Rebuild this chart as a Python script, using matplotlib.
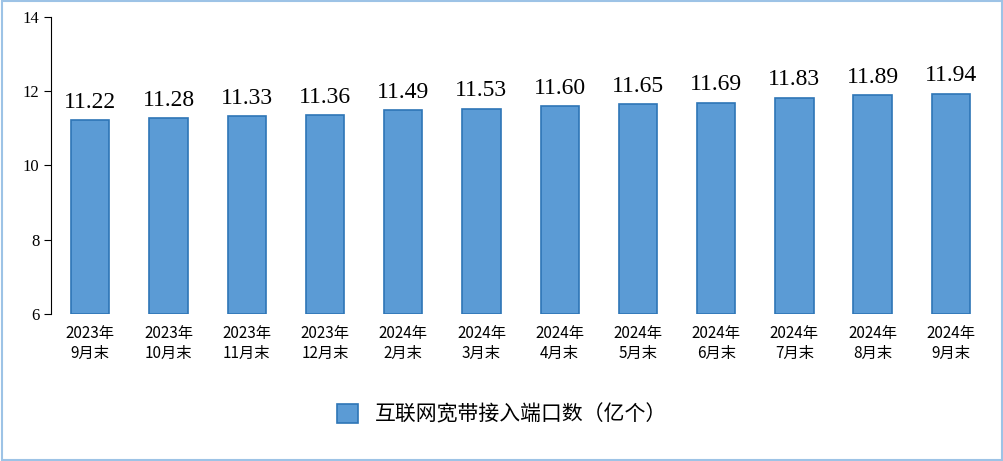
import matplotlib.pyplot as plt
from matplotlib.patches import Rectangle

categories = ["2023年\n9月末", "2023年\n10月末", "2023年\n11月末", "2023年\n12月末",
              "2024年\n2月末", "2024年\n3月末", "2024年\n4月末", "2024年\n5月末",
              "2024年\n6月末", "2024年\n7月末", "2024年\n8月末", "2024年\n9月末"]
values = [11.22, 11.28, 11.33, 11.36, 11.49, 11.53, 11.60, 11.65, 11.69, 11.83, 11.89, 11.94]
series_name = "互联网宽带接入端口数（亿个）"

plt.rcParams["font.family"] = ["Liberation Serif", "Noto Sans CJK SC"]

fig = plt.figure(figsize=(10.04, 4.61), dpi=100)
fig.patches.append(Rectangle((0.002, 0.003), 0.996, 0.994, transform=fig.transFigure,
                             fill=False, edgecolor="#9dc3e6", linewidth=1.5))
ax = fig.add_axes([0.051, 0.319, 0.935, 0.644])

x = range(len(categories))
bars = ax.bar(x, [v - 6 for v in values], bottom=6, width=0.49,
              color="#5b9bd5", edgecolor="#2e75b6", linewidth=1.2, label=series_name)
for i, v in zip(x, values):
    ax.text(i, v + 0.2, f"{v:.2f}", ha="center", va="bottom", fontsize=17)

ax.set_ylim(6, 14)
ax.set_xlim(-0.5, len(categories) - 0.5)
ax.set_yticks([6, 8, 10, 12, 14])
ax.tick_params(axis="y", labelsize=12, direction="out", length=5)
ax.set_xticks(list(x))
ax.set_xticklabels(categories, fontsize=11, family=["Noto Sans CJK SC"])
ax.tick_params(axis="x", length=0, pad=8)
for s in ["top", "right", "bottom"]:
    ax.spines[s].set_visible(False)

fig.legend(handles=[bars], labels=[series_name], loc="center", bbox_to_anchor=(0.5, 0.1),
           frameon=False, prop={"family": "Noto Sans CJK SC", "size": 15},
           handlelength=1.0, handleheight=1.0)

fig.savefig("out.png", dpi=100)
